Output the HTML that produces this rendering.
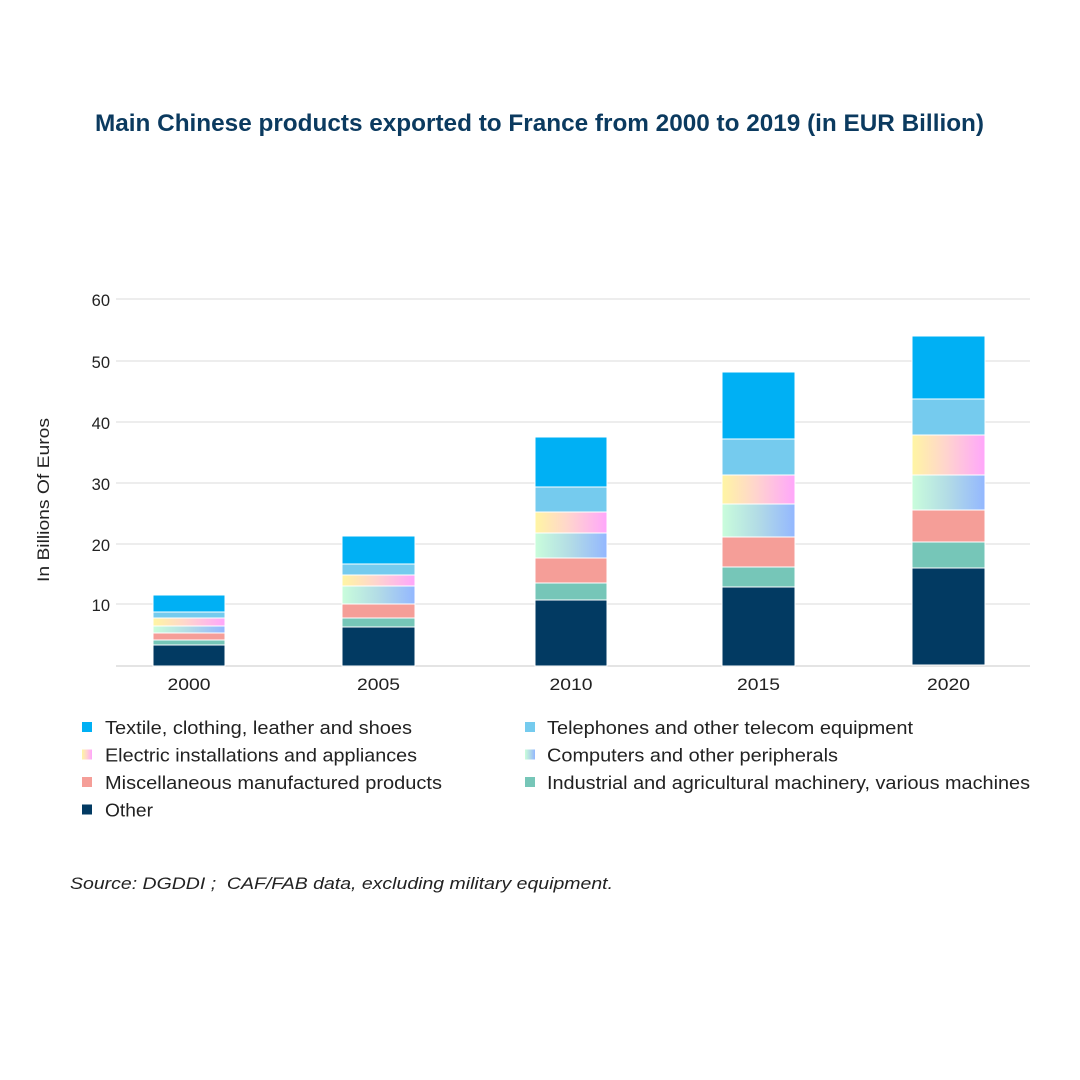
<!DOCTYPE html>
<html>
<head>
<meta charset="utf-8">
<style>
  html, body { margin:0; padding:0; background:#ffffff; }
  svg { display:block; }
  text { font-family: "Liberation Sans", sans-serif; }
</style>
</head>
<body>
<svg width="1080" height="1080" viewBox="0 0 1080 1080" xmlns="http://www.w3.org/2000/svg">
  <defs>
    <linearGradient id="gElec" x1="0" y1="0" x2="1" y2="0">
      <stop offset="0" stop-color="#fff5a3"/>
      <stop offset="0.45" stop-color="#ffd6cc"/>
      <stop offset="1" stop-color="#ffa6fb"/>
    </linearGradient>
    <linearGradient id="gComp" x1="0" y1="0" x2="1" y2="0">
      <stop offset="0" stop-color="#c9fddb"/>
      <stop offset="0.5" stop-color="#b2dbe6"/>
      <stop offset="1" stop-color="#93b7ff"/>
    </linearGradient>
  </defs>

  <rect x="0" y="0" width="1080" height="1080" fill="#ffffff"/>

  <!-- Title -->
  <text x="95" y="131" font-size="24" font-weight="bold" fill="#0b3a5f" textLength="889" lengthAdjust="spacingAndGlyphs">Main Chinese products exported to France from 2000 to 2019 (in EUR Billion)</text>

  <!-- Gridlines -->
  <g stroke="#e2e2e2" stroke-width="1.2">
    <line x1="116" y1="299" x2="1030" y2="299"/>
    <line x1="116" y1="361" x2="1030" y2="361"/>
    <line x1="116" y1="422" x2="1030" y2="422"/>
    <line x1="116" y1="483" x2="1030" y2="483"/>
    <line x1="116" y1="544" x2="1030" y2="544"/>
    <line x1="116" y1="604" x2="1030" y2="604"/>
  </g>
  <line x1="116" y1="666" x2="1030" y2="666" stroke="#dcdcdc" stroke-width="1.4"/>

  <!-- Y tick labels -->
  <g font-size="16.5" fill="#222" text-anchor="end">
    <text x="110" y="306">60</text>
    <text x="110" y="368">50</text>
    <text x="110" y="429">40</text>
    <text x="110" y="490">30</text>
    <text x="110" y="551">20</text>
    <text x="110" y="611">10</text>
  </g>

  <!-- Y axis title -->
  <text transform="translate(49,500) rotate(-90)" font-size="16.5" fill="#222" text-anchor="middle" textLength="164" lengthAdjust="spacingAndGlyphs">In Billions Of Euros</text>

  <!-- Bars -->
  <g stroke="#ffffff" stroke-width="1">
    <!-- 2000 -->
    <rect x="153" y="595" width="72" height="17" fill="#00b0f4"/>
    <rect x="153" y="612" width="72" height="6" fill="#75cbee"/>
    <rect x="153" y="618" width="72" height="8" fill="url(#gElec)"/>
    <rect x="153" y="626" width="72" height="7" fill="url(#gComp)"/>
    <rect x="153" y="633" width="72" height="7" fill="#f59e98"/>
    <rect x="153" y="640" width="72" height="5" fill="#76c6b8"/>
    <rect x="153" y="645" width="72" height="21" fill="#023a62"/>

    <!-- 2005 -->
    <rect x="342" y="536" width="73" height="28" fill="#00b0f4"/>
    <rect x="342" y="564" width="73" height="11" fill="#75cbee"/>
    <rect x="342" y="575" width="73" height="11" fill="url(#gElec)"/>
    <rect x="342" y="586" width="73" height="18" fill="url(#gComp)"/>
    <rect x="342" y="604" width="73" height="14" fill="#f59e98"/>
    <rect x="342" y="618" width="73" height="9" fill="#76c6b8"/>
    <rect x="342" y="627" width="73" height="39" fill="#023a62"/>

    <!-- 2010 -->
    <rect x="535" y="437" width="72" height="50" fill="#00b0f4"/>
    <rect x="535" y="487" width="72" height="25" fill="#75cbee"/>
    <rect x="535" y="512" width="72" height="21" fill="url(#gElec)"/>
    <rect x="535" y="533" width="72" height="25" fill="url(#gComp)"/>
    <rect x="535" y="558" width="72" height="25" fill="#f59e98"/>
    <rect x="535" y="583" width="72" height="17" fill="#76c6b8"/>
    <rect x="535" y="600" width="72" height="66" fill="#023a62"/>

    <!-- 2015 -->
    <rect x="722" y="372" width="73" height="67" fill="#00b0f4"/>
    <rect x="722" y="439" width="73" height="36" fill="#75cbee"/>
    <rect x="722" y="475" width="73" height="29" fill="url(#gElec)"/>
    <rect x="722" y="504" width="73" height="33" fill="url(#gComp)"/>
    <rect x="722" y="537" width="73" height="30" fill="#f59e98"/>
    <rect x="722" y="567" width="73" height="20" fill="#76c6b8"/>
    <rect x="722" y="587" width="73" height="79" fill="#023a62"/>

    <!-- 2020 -->
    <rect x="912" y="336" width="73" height="63" fill="#00b0f4"/>
    <rect x="912" y="399" width="73" height="36" fill="#75cbee"/>
    <rect x="912" y="435" width="73" height="40" fill="url(#gElec)"/>
    <rect x="912" y="475" width="73" height="35" fill="url(#gComp)"/>
    <rect x="912" y="510" width="73" height="32" fill="#f59e98"/>
    <rect x="912" y="542" width="73" height="26" fill="#76c6b8"/>
    <rect x="912" y="568" width="73" height="97" fill="#023a62"/>
  </g>

  <!-- X labels -->
  <g font-size="17" fill="#222" text-anchor="middle">
    <text x="189" y="690" textLength="43" lengthAdjust="spacingAndGlyphs">2000</text>
    <text x="378.5" y="690" textLength="43" lengthAdjust="spacingAndGlyphs">2005</text>
    <text x="571" y="690" textLength="43" lengthAdjust="spacingAndGlyphs">2010</text>
    <text x="758.5" y="690" textLength="43" lengthAdjust="spacingAndGlyphs">2015</text>
    <text x="948.5" y="690" textLength="43" lengthAdjust="spacingAndGlyphs">2020</text>
  </g>

  <!-- Legend -->
  <rect x="82" y="722" width="10" height="10" fill="#00b0f4"/>
  <rect x="82" y="749.5" width="10" height="10" fill="url(#gElec)"/>
  <rect x="82" y="777" width="10" height="10" fill="#f59e98"/>
  <rect x="82" y="804.5" width="10" height="10" fill="#023a62"/>
  <rect x="525" y="722" width="10" height="10" fill="#75cbee"/>
  <rect x="525" y="749.5" width="10" height="10" fill="url(#gComp)"/>
  <rect x="525" y="777" width="10" height="10" fill="#76c6b8"/>

  <g font-size="18" fill="#222">
    <text x="105" y="734" textLength="307" lengthAdjust="spacingAndGlyphs">Textile, clothing, leather and shoes</text>
    <text x="105" y="761.5" textLength="312" lengthAdjust="spacingAndGlyphs">Electric installations and appliances</text>
    <text x="105" y="789" textLength="337" lengthAdjust="spacingAndGlyphs">Miscellaneous manufactured products</text>
    <text x="105" y="816.5" textLength="48" lengthAdjust="spacingAndGlyphs">Other</text>
    <text x="547" y="734" textLength="366" lengthAdjust="spacingAndGlyphs">Telephones and other telecom equipment</text>
    <text x="547" y="761.5" textLength="291" lengthAdjust="spacingAndGlyphs">Computers and other peripherals</text>
    <text x="547" y="789" textLength="483" lengthAdjust="spacingAndGlyphs">Industrial and agricultural machinery, various machines</text>
  </g>

  <!-- Source -->
  <text x="70" y="889" font-size="17" font-style="italic" fill="#222" textLength="543" lengthAdjust="spacingAndGlyphs">Source: DGDDI ;&#160; CAF/FAB data, excluding military equipment.</text>
</svg>
</body>
</html>
